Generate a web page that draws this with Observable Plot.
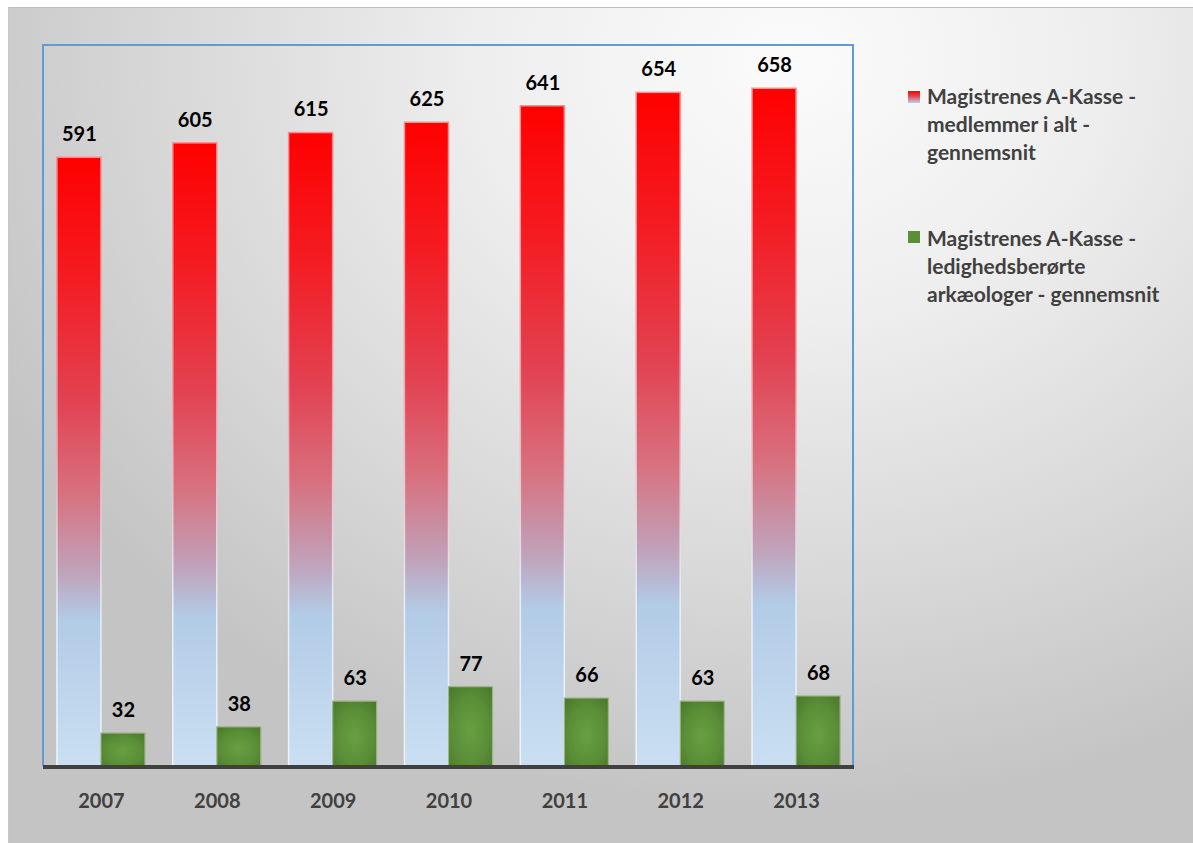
<!DOCTYPE html>
<html>
<head>
<meta charset="utf-8">
<script src="https://cdn.jsdelivr.net/npm/d3@7"></script>
<script src="https://cdn.jsdelivr.net/npm/@observablehq/plot@0.6"></script>
<style>
  html, body { margin: 0; padding: 0; width: 1193px; height: 843px; overflow: hidden; background: #ffffff; font-family: Lato, "Open Sans", sans-serif; }
  #panel { position: absolute; left: 8px; top: 7px; width: 1185px; height: 836px;
    border-top: 1px solid #bdbdbd; border-left: 1px solid #c8c8c8; box-sizing: border-box;
    background: radial-gradient(ellipse 75% 90% at 66% 6%, #fbfbfb 0%, #eeeeee 35%, #d8d8d8 70%, #c4c4c4 100%); }
  #chart { position: absolute; left: 0; top: 0; }
  #box { position: absolute; left: 42px; top: 44px; width: 812px; height: 722px; border: 2px solid #5f9bd6; border-bottom: none; box-sizing: border-box; pointer-events: none; }
  #base { position: absolute; left: 43px; top: 765px; width: 811px; height: 4px; background: #404040; }
  .leg { position: absolute; left: 927px; font-size: 21px; line-height: 28px; font-weight: bold; color: #404040; white-space: nowrap; }
  .sw { position: absolute; left: 908px; width: 12px; height: 12px; }
  [aria-label^="fx-axis"] text { font-weight: bold; font-size: 20px; fill: #404040; }
</style>
</head>
<body>
<div id="panel"></div>
<div id="chart"></div>
<div id="box"></div>
<div id="base"></div>
<div class="sw" style="top:91px;background:linear-gradient(#ff0000,#e04858 45%,#b8d2ec);"></div>
<div class="leg" style="top:82px;">Magistrenes A-Kasse -<br>medlemmer i alt -<br>gennemsnit</div>
<div class="sw" style="top:231px;background:#5a8e38;"></div>
<div class="leg" style="top:224px;">Magistrenes A-Kasse -<br>ledighedsberørte<br>arkæologer - gennemsnit</div>
<script>
const years = ["2007", "2008", "2009", "2010", "2011", "2012", "2013"];
const members = [591, 605, 615, 625, 641, 654, 658];
const unemployed = [32, 38, 63, 77, 66, 63, 68];
const seriesKeys = ["medlemmer", "ledige"];

const rows = [];
years.forEach((y, i) => {
  rows.push({year: y, series: seriesKeys[0], value: members[i]});
  rows.push({year: y, series: seriesKeys[1], value: unemployed[i]});
});

const plot = Plot.plot({
  width: 880,
  height: 843,
  marginLeft: 43,
  marginRight: 26,
  marginTop: 45,
  marginBottom: 77,
  style: {background: "transparent", fontFamily: "Lato, 'Open Sans', sans-serif", color: "#404040", overflow: "visible"},
  facet: {data: rows, x: "year"},
  fx: {domain: years, paddingInner: 0.24, paddingOuter: 0.12, round: false, label: null, axis: "bottom", tickSize: 0, tickPadding: 27},
  x: {domain: seriesKeys, padding: 0, round: false, axis: null},
  y: {domain: [0, 700], axis: null},
  marks: [
    Plot.barY(rows, {filter: d => d.series === seriesKeys[0], x: "series", y: "value",
      fill: "url(#redgrad)", stroke: "url(#redstroke)", strokeWidth: 1.5}),
    Plot.barY(rows, {filter: d => d.series === seriesKeys[1], x: "series", y: "value",
      fill: "url(#greengrad)", stroke: "#9cb488", strokeWidth: 1.2}),
    Plot.text(rows, {x: "series", y: "value", text: d => String(d.value), dy: -23,
      fill: "#000000", fontSize: 20, fontWeight: "bold"})
  ]
});

const defs = d3.select(plot).insert("defs", ":first-child");
const rg = defs.append("linearGradient").attr("id", "redgrad").attr("x1", 0).attr("y1", 0).attr("x2", 0).attr("y2", 1);
[[0, "#ff0000"], [0.2, "#f41c22"], [0.4, "#e24252"], [0.55, "#d8707e"], [0.68, "#c0a2ba"], [0.76, "#b2cbe6"], [1, "#cadff2"]]
  .forEach(([o, c]) => rg.append("stop").attr("offset", o).attr("stop-color", c));
const rs = defs.append("linearGradient").attr("id", "redstroke").attr("x1", 0).attr("y1", 0).attr("x2", 0).attr("y2", 1);
[[0, "#ff8a8a"], [0.4, "#f0a0a8"], [0.75, "#e6eef8"], [1, "#eef4fb"]]
  .forEach(([o, c]) => rs.append("stop").attr("offset", o).attr("stop-color", c));
const gg = defs.append("radialGradient").attr("id", "greengrad").attr("cx", 0.5).attr("cy", 0.55).attr("r", 0.7);
[[0, "#67a042"], [0.6, "#5a8e37"], [1, "#4b792c"]]
  .forEach(([o, c]) => gg.append("stop").attr("offset", o).attr("stop-color", c));

document.getElementById("chart").appendChild(plot);
</script>
</body>
</html>
